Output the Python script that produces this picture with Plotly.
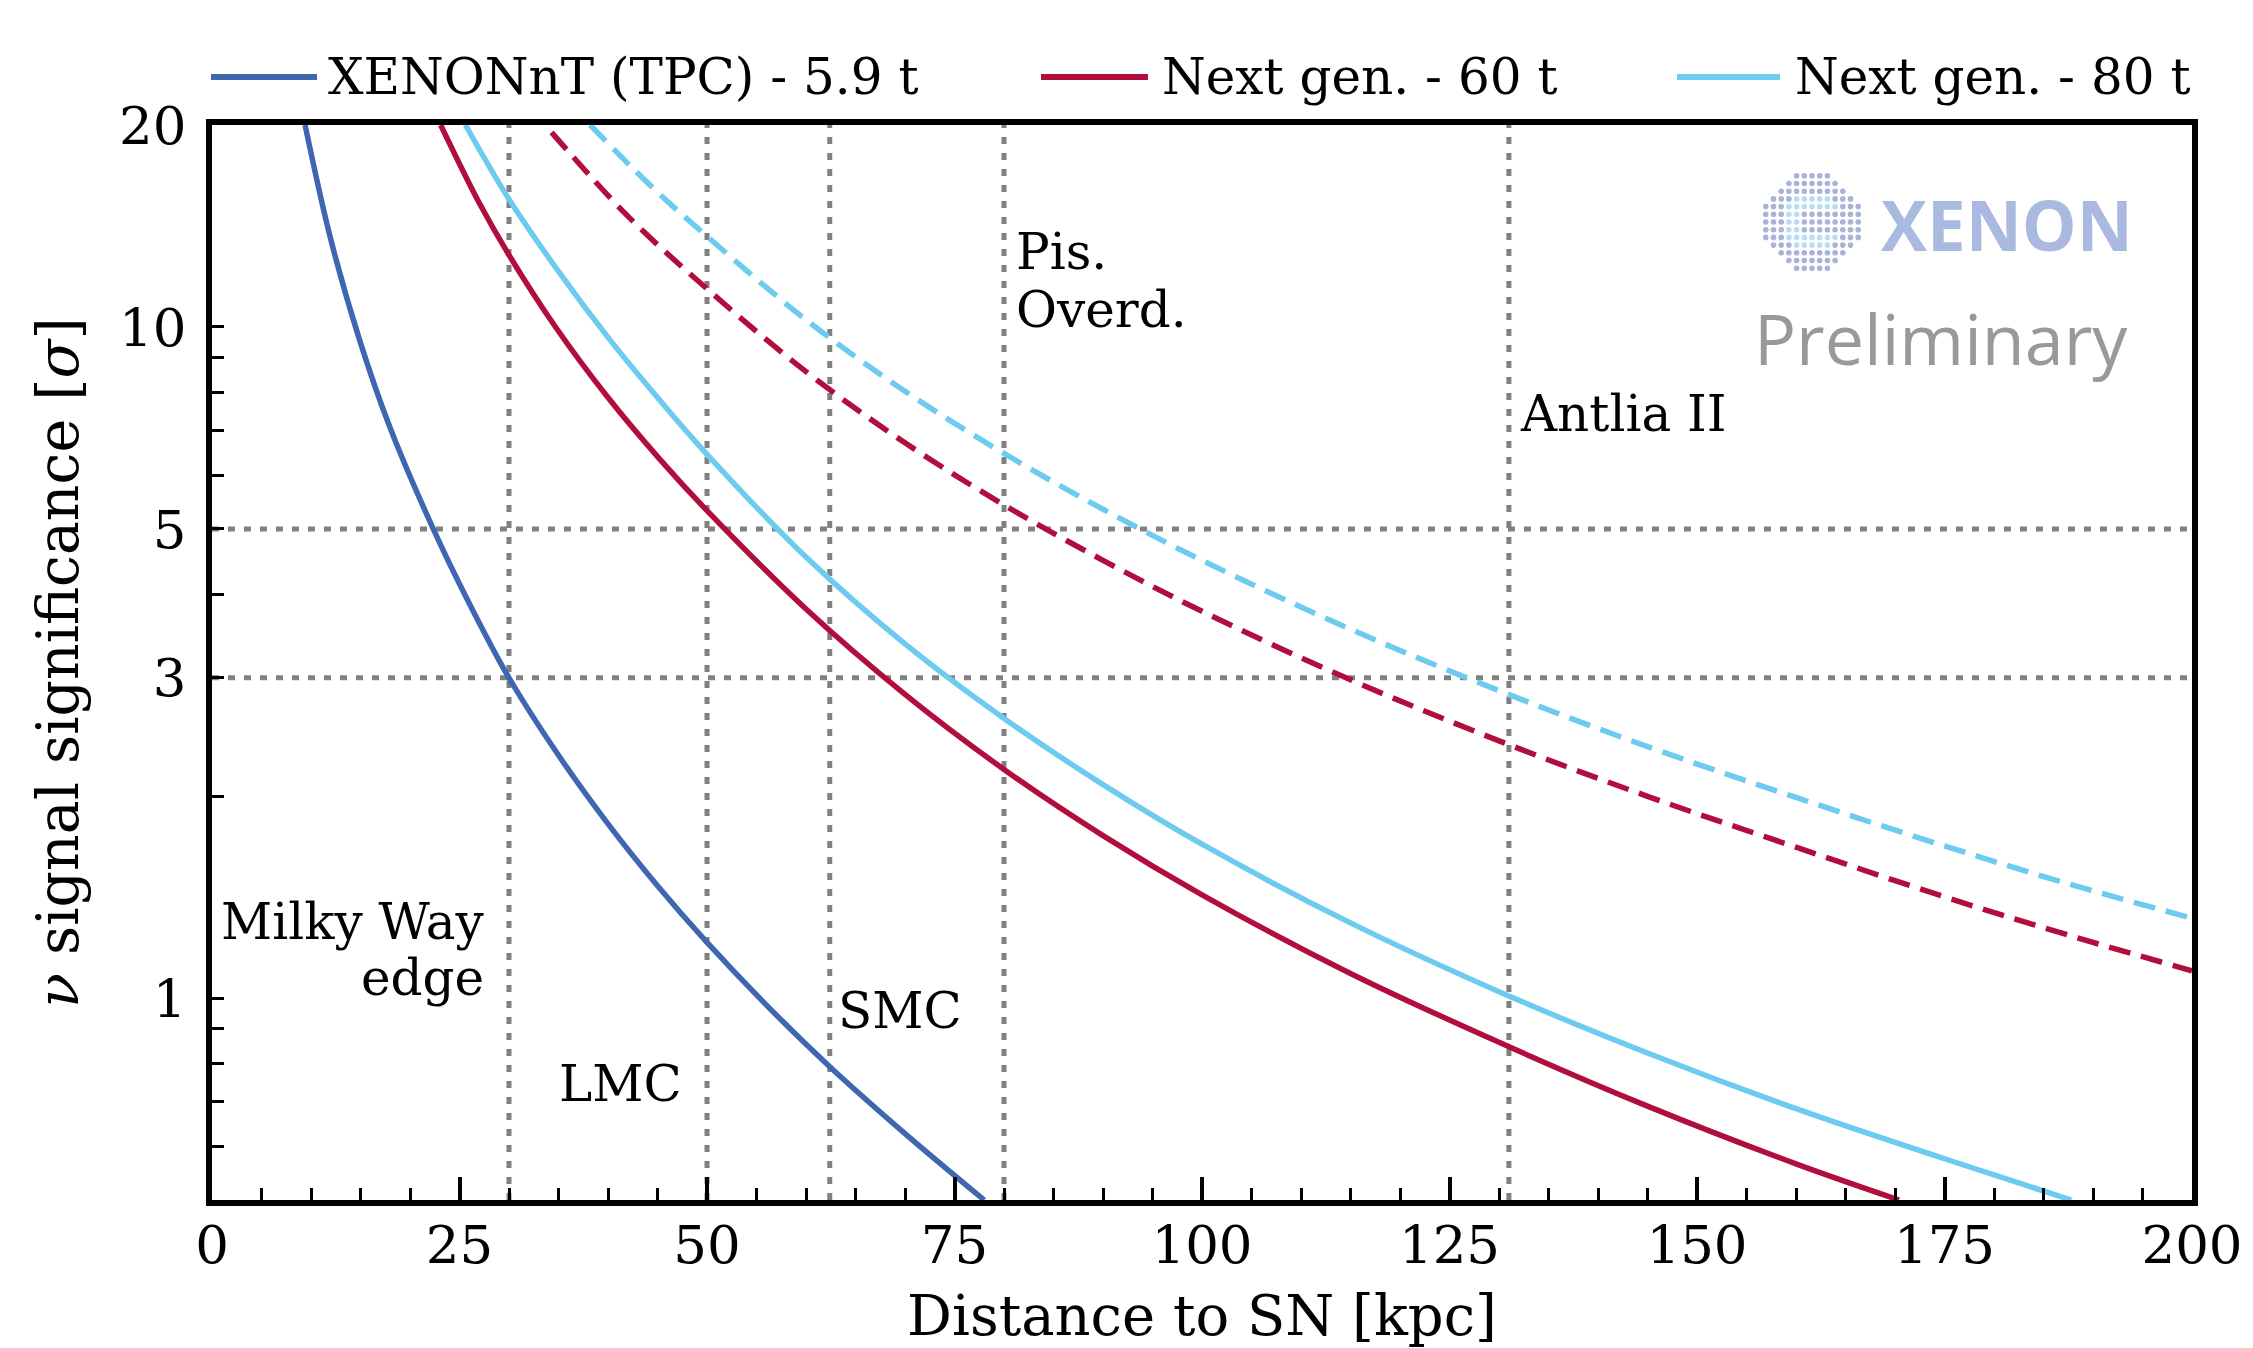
import plotly.graph_objects as go

# The page body has an 8px margin; size the figure so the plot lands where the reference has it.
BODY = 8
FIG_W, FIG_H = 2253 - BODY, 1348 - BODY
ML, MR, MT, MB = 204, 61, 117, 148
PW, PH = FIG_W - ML - MR, FIG_H - MT - MB

# ---------------- data ----------------
dist_xnt = [9.4, 12, 15, 18, 22.3, 26, 30, 35, 40, 45, 50, 56, 62.4, 70, 78]
sig_xnt = [20, 13.5, 9.47, 7.07, 5.02, 3.87, 3.0, 2.30, 1.818, 1.470, 1.210, 0.976, 0.79, 0.628, 0.5]

dist_60 = [23.1, 27, 30, 34.7, 40, 45, 50, 60, 70, 80, 90, 100, 115, 130, 145, 160, 170.4]
sig_60 = [20, 15.3, 12.8, 10, 7.85, 6.41, 5.325, 3.80, 2.835, 2.191, 1.746, 1.425, 1.088, 0.859, 0.690, 0.566, 0.5]

dist_80 = [25.6, 30, 35, 40, 45, 50, 60, 70, 80, 90, 100, 115, 130, 145, 160, 175, 187.8]
sig_80 = [20, 15.5, 12.1, 9.65, 7.85, 6.46, 4.54, 3.37, 2.61, 2.08, 1.695, 1.294, 1.022, 0.828, 0.684, 0.576, 0.5]

dist_60_dash = [34.3, 42, 50, 60, 70, 80, 90, 100, 115, 130, 145, 160, 175, 187.5, 200]
sig_60_dash = [19.5, 14.63, 11.4, 8.58, 6.72, 5.43, 4.49, 3.77, 2.98, 2.417, 1.998, 1.678, 1.415, 1.241, 1.098]

dist_80_dash = [38.2, 44, 50, 60, 70, 80, 90, 100, 115, 130, 145, 160, 175, 187.5, 200]
sig_80_dash = [20, 16.4, 13.65, 10.25, 8.02, 6.48, 5.35, 4.49, 3.545, 2.871, 2.37, 1.99, 1.685, 1.48, 1.315]

series_names = ["XENONnT (TPC) - 5.9 t", "Next gen. - 60 t", "Next gen. - 80 t"]
series_colors = ["#3f66b0", "#b10e3e", "#6ccbee"]

landmark_dist = [30, 50, 62.4, 80, 131]
threshold_levels = [3, 5]

x_tickvals = [0, 25, 50, 75, 100, 125, 150, 175, 200]
y_tickvals = [1, 3, 5, 10, 20]
y_ticktext = ["1", "3", "5", "10", "20"]
y_minor_vals = [0.6, 0.7, 0.8, 0.9, 2, 4, 6, 7, 8, 9]
y_major_long = [1, 10]

SERIF = "DejaVu Serif"
GRID = "#808080"


def px_x(x_page):
    return (x_page - BODY - ML) / PW


def px_y(y_page):
    return (FIG_H - MB - (y_page - BODY)) / PH


fig = go.Figure()

LW = 5.5
DASH = "22px,11px"
fig.add_trace(go.Scatter(x=dist_xnt, y=sig_xnt, mode="lines", name=series_names[0],
                         line=dict(color=series_colors[0], width=LW, shape="spline")))
fig.add_trace(go.Scatter(x=dist_60, y=sig_60, mode="lines", name=series_names[1],
                         line=dict(color=series_colors[1], width=LW, shape="spline")))
fig.add_trace(go.Scatter(x=dist_80, y=sig_80, mode="lines", name=series_names[2],
                         line=dict(color=series_colors[2], width=LW, shape="spline")))
fig.add_trace(go.Scatter(x=dist_60_dash, y=sig_60_dash, mode="lines", showlegend=False,
                         line=dict(color=series_colors[1], width=LW, shape="spline", dash=DASH)))
fig.add_trace(go.Scatter(x=dist_80_dash, y=sig_80_dash, mode="lines", showlegend=False,
                         line=dict(color=series_colors[2], width=LW, shape="spline", dash=DASH)))

shapes = []
for d in landmark_dist:
    shapes.append(dict(type="line", xref="x", yref="paper", x0=d, x1=d, y0=0, y1=1,
                       line=dict(color=GRID, width=5, dash="7px,9px"), layer="below"))
for lv in threshold_levels:
    shapes.append(dict(type="line", xref="paper", yref="y", x0=0, x1=1, y0=lv, y1=lv,
                       line=dict(color=GRID, width=5, dash="7px,9px"), layer="below"))

annotations = []
ANN = dict(size=50, color="black", family=SERIF)


def add_text(text, x, y, xanchor, xref="x", yref="y", font=ANN):
    annotations.append(dict(text=text, x=x, y=y, xref=xref, yref=yref, xanchor=xanchor,
                            yanchor="middle", showarrow=False, font=font))


add_text("Milky Way", 27.7, 0.1132, "right")
add_text("edge", 27.7, 0.0298, "right")
add_text("LMC", 47.7, -0.1282, "right")
add_text("SMC", 63.0, -0.0194, "left")
add_text("Pis.", 81.0, 1.1117, "left")
add_text("Overd.", 81.0, 1.0253, "left")
add_text("Antlia II", 131.9, 0.8703, "left")

# legend (drawn manually to reproduce the long line samples)
leg_y = px_y(77)
leg_items = [(211, 317, 326), (1041, 1148, 1160), (1677, 1780, 1793)]
for (x0, x1, xt), name, col in zip(leg_items, series_names, series_colors):
    shapes.append(dict(type="line", xref="paper", yref="paper", x0=px_x(x0), x1=px_x(x1),
                       y0=leg_y, y1=leg_y, line=dict(color=col, width=6)))
    add_text(name, px_x(xt), leg_y, "left", xref="paper", yref="paper",
             font=dict(size=50, color="black", family=SERIF))

# XENON logo watermark
cx, cy, R, sp = 1812, 222, 49, 7.7
for i in range(-6, 7):
    for j in range(-6, 7):
        x, y = cx + j * sp, cy + i * sp
        r = ((j * sp) ** 2 + (i * sp) ** 2) ** 0.5
        if r > R:
            continue
        ring = 0.3 * R < r < 0.62 * R and not (j >= 2 and abs(i) <= 1)
        col = "#b7def3" if ring else "#a9b3d8"
        rd = 2.8
        shapes.append(dict(type="circle", xref="paper", yref="paper",
                           x0=px_x(x - rd), x1=px_x(x + rd), y0=px_y(y + rd), y1=px_y(y - rd),
                           fillcolor=col, line=dict(width=0)))
add_text("<b>XENON</b>", px_x(1879), px_y(224), "left", xref="paper", yref="paper",
         font=dict(size=69, color="#a9b9df", family="Open Sans"))
add_text("Preliminary", px_x(1752), px_y(338), "left", xref="paper", yref="paper",
         font=dict(size=70, color="#999999", family="Open Sans"))

fig.update_layout(
    width=FIG_W, height=FIG_H,
    margin=dict(l=ML, r=MR, t=MT, b=MB, autoexpand=False),
    paper_bgcolor="white", plot_bgcolor="white",
    showlegend=False,
    shapes=shapes, annotations=annotations,
    font=dict(family=SERIF, color="black"),
    xaxis=dict(
        range=[0, 200], showgrid=False, zeroline=False,
        showline=True, linecolor="black", linewidth=6, mirror=True,
        ticks="inside", ticklen=23, tickwidth=4, tickcolor="black",
        tickmode="array", tickvals=x_tickvals,
        tickfont=dict(size=53, family=SERIF, color="black"),
        ticklabelstandoff=-7,
        minor=dict(ticks="inside", ticklen=12, tickwidth=3, tickcolor="black", dtick=5, showgrid=False),
        title=dict(text="Distance to SN [kpc]", font=dict(size=56, family=SERIF, color="black"), standoff=40),
    ),
    yaxis=dict(
        type="log", range=[-0.30103, 1.30103], showgrid=False, zeroline=False,
        showline=True, linecolor="black", linewidth=6, mirror=True,
        ticks="inside", ticklen=12, tickwidth=3, tickcolor="black",
        tickmode="array", tickvals=y_tickvals, ticktext=y_ticktext,
        tickfont=dict(size=53, family=SERIF, color="black"),
        ticklabelstandoff=9,
        minor=dict(ticks="inside", ticklen=12, tickwidth=3, tickcolor="black",
                   tickmode="array", tickvals=y_minor_vals, showgrid=False),
        title=dict(text="<i>ν</i> signal significance [<i>σ</i>]",
                   font=dict(size=57, family=SERIF, color="black"), standoff=24),
    ),
    yaxis2=dict(
        type="log", range=[-0.30103, 1.30103], overlaying="y", side="left", anchor="x",
        showgrid=False, zeroline=False, showline=False,
        ticks="inside", ticklen=23, tickwidth=4, tickcolor="black",
        tickmode="array", tickvals=y_major_long, showticklabels=False,
    ),
)

fig.write_html("out.html")
